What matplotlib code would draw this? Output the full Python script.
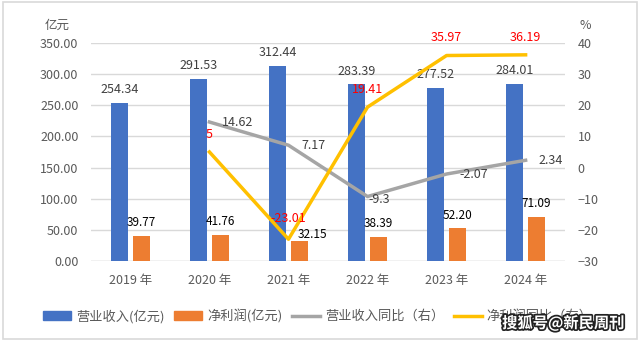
import matplotlib
matplotlib.use("Agg")
import matplotlib.pyplot as plt
import numpy as np
from matplotlib.patches import Patch, Rectangle
from matplotlib.lines import Line2D
import matplotlib.patheffects as pe

plt.rcParams['font.family'] = ['Noto Sans CJK SC', 'DejaVu Sans']

categories = ["2019 年", "2020 年", "2021 年", "2022 年", "2023 年", "2024 年"]
revenue = [254.34, 291.53, 312.44, 283.39, 277.52, 284.01]
net_profit = [39.77, 41.76, 32.15, 38.39, 52.20, 71.09]
rev_yoy = [None, 14.62, 7.17, -9.3, -2.07, 2.34]
rev_yoy_labels = ["", "14.62", "7.17", "-9.3", "-2.07", "2.34"]
np_yoy = [None, 5.0, -23.01, 19.41, 35.97, 36.19]
np_yoy_labels = ["", "5", "-23.01", "19.41", "35.97", "36.19"]

C_BLUE = "#4472C4"
C_ORANGE = "#ED7D31"
C_GRAY = "#A5A5A5"
C_YELLOW = "#FFC000"
TXT = "#595959"

fig = plt.figure(figsize=(6.4, 3.41), dpi=100)
fig.patch.set_facecolor("white")
ax = fig.add_axes([0.142, 0.2346, 0.741, 0.6394])
ax2 = ax.twinx()

x = np.arange(len(categories))
w = 0.22
off = 0.14
ax.bar(x - off, revenue, width=w, color=C_BLUE, zorder=2)
ax.bar(x + off, net_profit, width=w, color=C_ORANGE, zorder=2)

for xi, v in zip(x, revenue):
    ax.annotate(f"{v:.2f}", (xi - off, v), xytext=(0, 5), textcoords="offset points",
                ha="center", va="bottom", fontsize=9, color="#404040")
for i, (xi, v) in enumerate(zip(x, net_profit)):
    dx, dy = (9, 0) if i == 2 else (0, 5)
    ax.annotate(f"{v:.2f}", (xi + off, v), xytext=(dx, dy), textcoords="offset points",
                ha="center", va="bottom", fontsize=8.5, color="#000000", zorder=6)

ax.set_ylim(0, 350)
ax.set_yticks(np.arange(0, 351, 50))
ax.set_yticklabels([f"{t:.2f}" for t in np.arange(0, 351, 50)])
ax.set_xlim(-0.5, len(categories) - 0.5)
ax.set_xticks(x)
ax.set_xticklabels(categories)
ax.grid(axis="y", color="#D9D9D9", linewidth=1, zorder=0)
ax.set_axisbelow(True)
for s in ax.spines.values():
    s.set_visible(False)
for s in ax2.spines.values():
    s.set_visible(False)
ax.tick_params(axis="both", length=0, colors=TXT, labelsize=9)
ax.tick_params(axis="y", pad=9)
ax.tick_params(axis="x", pad=9)
ax.axhline(0, color="#D9D9D9", linewidth=1, zorder=1)

xs = [xi for xi, v in zip(x, rev_yoy) if v is not None]
ax2.plot(xs, [v for v in rev_yoy if v is not None], color=C_GRAY, linewidth=2.5, zorder=3)
xs2 = [xi for xi, v in zip(x, np_yoy) if v is not None]
ax2.plot(xs2, [v for v in np_yoy if v is not None], color=C_YELLOW, linewidth=2.5, zorder=4)

for i, (xi, v, lab) in enumerate(zip(x, rev_yoy, rev_yoy_labels)):
    if v is None:
        continue
    dx, dy = (1, -2) if i == 3 else (9, 0)
    ax2.annotate(lab, (xi, v), xytext=(dx, dy), textcoords="offset points",
                 ha="left", va="center", fontsize=9, color="#404040")
for i, (xi, v, lab) in enumerate(zip(x, np_yoy, np_yoy_labels)):
    if v is None:
        continue
    dy = 10 if i == 2 else 8
    ax2.annotate(lab, (xi, v), xytext=(0, dy), textcoords="offset points",
                 ha="center", va="bottom", fontsize=9, color="#FF0000", zorder=5)

ax2.set_ylim(-30, 40)
ax2.set_yticks(np.arange(-30, 41, 10))
ax2.tick_params(axis="y", length=0, colors=TXT, labelsize=9, pad=9)

fig.text(0.09, 0.925, "亿元", fontsize=9, color=TXT, ha="center", va="center")
fig.text(0.915, 0.925, "%", fontsize=9, color=TXT, ha="center", va="center")

handles = [Patch(color=C_BLUE), Patch(color=C_ORANGE),
           Line2D([], [], color=C_GRAY, linewidth=2.5),
           Line2D([], [], color=C_YELLOW, linewidth=2.5)]
labels = ["营业收入(亿元)", "净利润(亿元)", "营业收入同比（右）", "净利润同比（右）"]
fig.legend(handles, labels, loc="center", bbox_to_anchor=(0.497, 0.073), ncol=4,
           frameon=False, fontsize=9.5, labelcolor=TXT, handlelength=2.1,
           handleheight=0.6, columnspacing=0.75, handletextpad=0.38)

fig.text(0.88, 0.052, "搜狐号@新民周刊", fontsize=11, color="white", fontweight="bold",
         ha="center", va="center", zorder=10,
         path_effects=[pe.withStroke(linewidth=2.5, foreground="#222222")])

fig.patches.append(Rectangle((0.004, 0.006), 0.992, 0.988, transform=fig.transFigure,
                             fill=False, edgecolor="#D9D9D9", linewidth=1.2))

fig.savefig("out.png", dpi=100)
